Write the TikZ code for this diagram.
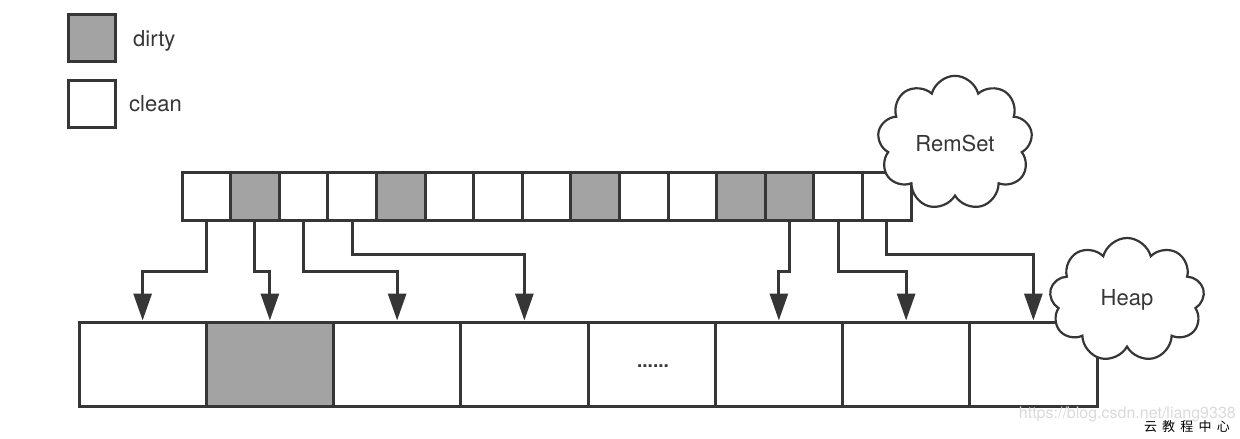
\documentclass[tikz,border=0pt]{standalone}
\usepackage{fontspec}
\setmainfont{TeX Gyre Heros}
\newfontfamily\cjk[LetterSpace=40]{Noto Sans CJK SC}
\usetikzlibrary{arrows.meta,shapes.symbols}
\definecolor{ln}{HTML}{363636}
\definecolor{dk}{HTML}{A3A3A3}
\definecolor{wmk}{HTML}{DADADA}
\tikzset{
  cell/.style={draw=ln, line width=3pt, inner sep=0pt, minimum width=48.6pt, minimum height=48pt},
  heapcell/.style={draw=ln, line width=3pt, inner sep=0pt, minimum width=127.25pt, minimum height=84pt},
  link/.style={draw=ln, line width=3pt, -{Triangle[length=27pt,width=18pt]}},
  cloudnode/.style={cloud, draw=ln, line width=2.2pt, fill=white, cloud puffs=9, inner sep=0pt, text=ln},
  legbox/.style={draw=ln, line width=3pt, minimum size=47pt, inner sep=0pt},
  lbl/.style={font=\fontsize{22}{26}\selectfont, text=ln, inner sep=0pt}
}
\begin{document}
\begin{tikzpicture}[x=1pt,y=-1pt]
\useasboundingbox (0,0) rectangle (1240,439);
% legend
\node[legbox, fill=dk] (kd) at (92,38) {};
\node[legbox, fill=white] (kc) at (92,103.5) {};
\node[lbl, anchor=base west] (kdt) at (133,46.5) {dirty};
\node[lbl, anchor=base west] (kct) at (129,111.5) {clean};
% remembered set cells
\foreach \i/\f in {0/white,1/dk,2/white,3/white,4/dk,5/white,6/white,7/white,8/dk,9/white,10/white,11/dk,12/dk,13/white,14/white}{
  \node[cell, fill=\f] (t\i) at ({182+48.6*(\i+0.5)},196) {};
}
% heap cells
\foreach \j/\f in {0/white,1/dk,2/white,3/white,4/white,5/white,6/white,7/white}{
  \node[heapcell, fill=\f] (b\j) at ({79+127.25*(\j+0.5)},364) {};
}
\node[font=\fontsize{19}{20}\selectfont\bfseries, text=ln, inner sep=0pt] (dots) at (653,366) {......};
% levels
\coordinate (hiA) at (0,254);
\coordinate (hiB) at (0,271);
\draw[link] (t0.south) -- (t0.south |- hiB) -| (b0.north);
\draw[link] (t1.south) -- (t1.south |- hiB) -| (b1.north);
\draw[link] (t2.south) -- (t2.south |- hiB) -| (b2.north);
\draw[link] (t3.south) -- (t3.south |- hiA) -| (b3.north);
\draw[link] (t12.south) -- (t12.south |- hiB) -| (b5.north);
\draw[link] (t13.south) -- (t13.south |- hiB) -| (b6.north);
\draw[link] (t14.south) -- (t14.south |- hiA) -| (b7.north);
% clouds
\node[cloudnode, font=\fontsize{22}{26}\selectfont, minimum width=155pt, minimum height=117pt] (remset) at (955,143) {RemSet};
\node[cloudnode, font=\fontsize{22}{26}\selectfont, minimum width=155pt, minimum height=124pt] (heap) at (1127,300) {Heap};
% watermark
\node[text=wmk, font=\fontsize{16}{18}\selectfont, anchor=east, inner sep=0pt] (wm) at (1236,414) {https://blog.csdn.net/liang9338};
\node[font=\cjk\fontsize{13}{15}\selectfont, anchor=east, inner sep=0pt] (cn) at (1230,427) {云教程中心};
\end{tikzpicture}
\end{document}
